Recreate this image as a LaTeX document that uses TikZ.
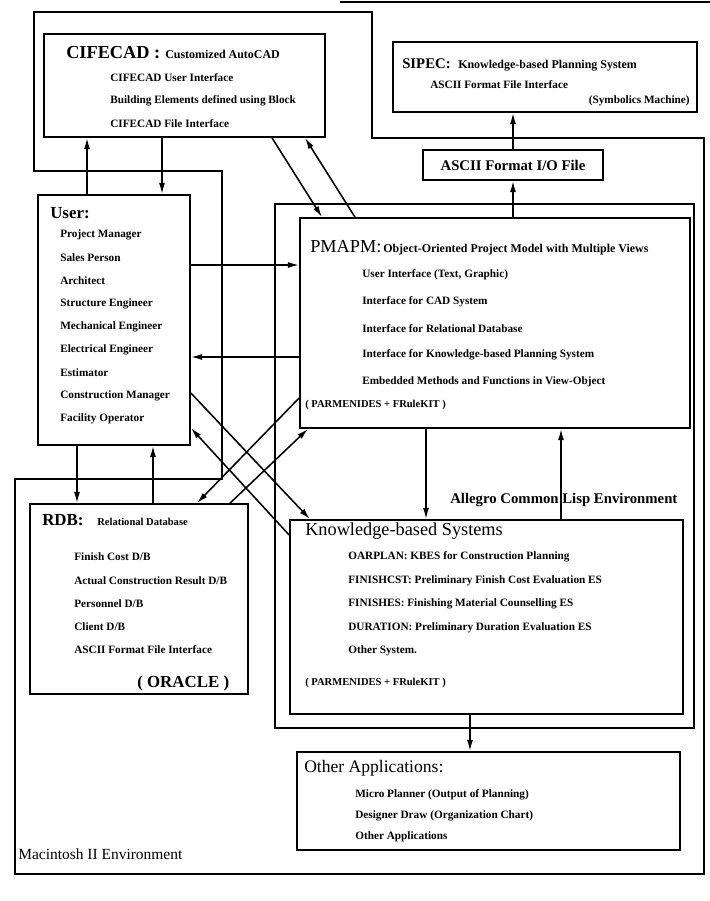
\documentclass[tikz,border=0pt]{standalone}
\usepackage{fontspec}
\setmainfont{Liberation Serif}
\usepackage{tikz}
\usetikzlibrary{arrows,arrows.meta}
\newlength{\pu}
\setlength{\pu}{0.025cm}
\tikzset{
  >={Latex[length=2.8mm,width=1.5mm]},
  box/.style={draw, line width=1.2pt, inner sep=0pt},
  frame/.style={line width=1.2pt},
  conn/.style={line width=1.1pt},
  head/.style={anchor=base west, inner sep=0pt, font=\bfseries\fontsize{13}{15}\selectfont},
  sub/.style={anchor=base west, inner sep=0pt, font=\bfseries\fontsize{8.5}{10}\selectfont},
  item/.style={anchor=west, inner sep=0pt, font=\bfseries\fontsize{8}{9}\selectfont},
  big/.style={anchor=west, inner sep=0pt, font=\fontsize{13}{15}\selectfont},
}
\begin{document}
\begin{tikzpicture}[x=\pu, y=-\pu]
      \useasboundingbox (0,0) rectangle (710,901);

      \draw[frame] (34,12) -- (372,12) -- (372,138) -- (704,138) -- (704,874)
        -- (15,874) -- (15,479) -- (222,479) -- (222,171) -- (34,171) -- cycle;
      \draw[frame] (340,2) -- (710,2);

      \node[box, minimum width=419\pu, minimum height=524\pu] (allegro) at (484.5,466) {};
      \node[box, minimum width=281\pu, minimum height=103\pu] (cifecad) at (184.5,85.5) {};
      \node[box, minimum width=304\pu, minimum height=70\pu] (sipec) at (545,77) {};
      \node[box, minimum width=180\pu, minimum height=30\pu, font=\bfseries\fontsize{10.5}{12}\selectfont] (asciio) at (513,165) {ASCII Format I/O File};
      \node[box, minimum width=152\pu, minimum height=250\pu] (user) at (114,320) {};
      \node[box, minimum width=390\pu, minimum height=210\pu] (pmapm) at (495,323) {};
      \node[box, minimum width=218\pu, minimum height=190\pu] (rdb) at (139,599) {};
      \node[box, minimum width=393\pu, minimum height=194\pu] (kbs) at (486.5,617) {};
      \node[box, minimum width=383\pu, minimum height=98\pu] (others) at (488.5,801) {};

      \node[head] (cifecadT) at (66,58) {CIFECAD :};
      \node[sub] (cifecadS) at (165,58) {Customized AutoCAD};
      \foreach \t [count=\i from 0] in {CIFECAD User Interface, Building Elements defined using Block, CIFECAD File Interface}
        \node[item] (cifecad\i) at (110,78+23*\i) {\t};

      \node[head, font=\bfseries\fontsize{10.5}{12}\selectfont] (sipecT) at (402,68) {SIPEC:};
      \node[sub] (sipecS) at (458,68) {Knowledge-based Planning System};
      \node[item] (sipec0) at (430,85) {ASCII Format File Interface};
      \node[item, anchor=east] (sipec1) at (690,101) {(Symbolics Machine)};

      \node[head, font=\bfseries\fontsize{12}{14}\selectfont] (userT) at (50,218) {User:};
      \foreach \t [count=\i from 0] in {Project Manager, Sales Person, Architect, Structure Engineer, Mechanical Engineer, Electrical Engineer, Estimator, Construction Manager, Facility Operator}
        \node[item] (user\i) at (60,235+23*\i) {\t};

      \node[head, font=\fontsize{13}{15}\selectfont] (pmapmT) at (310,252) {PMAPM:};
      \node[sub] (pmapmS) at (383,252) {Object-Oriented Project Model with Multiple Views};
      \foreach \t [count=\i from 0] in {{User Interface (Text, Graphic)}, Interface for CAD System, Interface for Relational Database, Interface for Knowledge-based Planning System, Embedded Methods and Functions in View-Object}
        \node[item] (pmapm\i) at (362,275+26.7*\i) {\t};
      \node[item, font=\bfseries\fontsize{7.5}{8}\selectfont] (pmapmP) at (305,405) {( PARMENIDES + FRuleKIT )};

      \node[head, font=\bfseries\fontsize{12}{14}\selectfont] (rdbT) at (42,525) {RDB:};
      \node[sub, font=\bfseries\fontsize{7.5}{9}\selectfont] (rdbS) at (97,525) {Relational Database};
      \foreach \t [count=\i from 0] in {Finish Cost D/B, Actual Construction Result D/B, Personnel D/B, Client D/B, ASCII Format File Interface}
        \node[item] (rdb\i) at (74,557+23.2*\i) {\t};
      \node[big, font=\bfseries\fontsize{12}{14}\selectfont] (rdbO) at (137,683) {( ORACLE )};

      \node[big] (kbsT) at (305,531) {Knowledge-based Systems};
      \foreach \t [count=\i from 0] in {OARPLAN: KBES for Construction Planning, FINISHCST: Preliminary Finish Cost Evaluation ES, FINISHES: Finishing Material Counselling ES, DURATION: Preliminary Duration Evaluation ES, Other System.}
        \node[item] (kbs\i) at (348,557+23.5*\i) {\t};
      \node[item, font=\bfseries\fontsize{7.5}{8}\selectfont] (kbsP) at (305,683) {( PARMENIDES + FRuleKIT )};

      \node[big, font=\fontsize{12.5}{15}\selectfont] (othersT) at (304,768) {Other Applications:};
      \foreach \t [count=\i from 0] in {Micro Planner (Output of Planning), Designer Draw (Organization Chart), Other Applications}
        \node[item] (others\i) at (355,795+21*\i) {\t};

      \node[item, font=\bfseries\fontsize{10.5}{12}\selectfont] (allegroT) at (450,500) {Allegro Common Lisp Environment};
      \node[big, font=\fontsize{11}{13}\selectfont] (macT) at (18,854) {Macintosh II Environment};

      \draw[conn,->] (user.north -| 87,0) -- (cifecad.south -| 87,0);
      \draw[conn,->] (cifecad.south -| 162,0) -- (user.north -| 162,0);
      \draw[conn,->] (cifecad.south -| 272,0) -- (pmapm.north -| 322,0);
      \draw[conn,->] (pmapm.north -| 355,0) -- (cifecad.south -| 305,0);
      \draw[conn,->] (pmapm.north -| asciio.south) -- (asciio.south);
      \draw[conn,->] (asciio.north) -- (sipec.south -| asciio.north);
      \draw[conn,->] (user.east |- 0,265) -- (pmapm.west |- 0,265);
      \draw[conn,->] (pmapm.west |- 0,357) -- (user.east |- 0,357);
      \draw[conn,->] (user.east |- 0,393) -- (kbs.north -| 310,0);
      \draw[conn,->] (kbs.west |- 0,535) -- (user.east |- 0,428);
      \draw[conn,->] (pmapm.west |- 0,398) -- (rdb.north -| 197,0);
      \draw[conn,->] (rdb.north -| 230,0) -- (pmapm.south -| 308,0);
      \draw[conn,->] (user.south -| 77,0) -- (rdb.north -| 77,0);
      \draw[conn,->] (rdb.north -| 153,0) -- (user.south -| 153,0);
      \draw[conn,->] (pmapm.south -| 426,0) -- (kbs.north -| 426,0);
      \draw[conn,->] (kbs.north -| 561,0) -- (pmapm.south -| 561,0);
      \draw[conn,->] (kbs.south -| 470,0) -- (others.north -| 470,0);
\end{tikzpicture}
\end{document}
